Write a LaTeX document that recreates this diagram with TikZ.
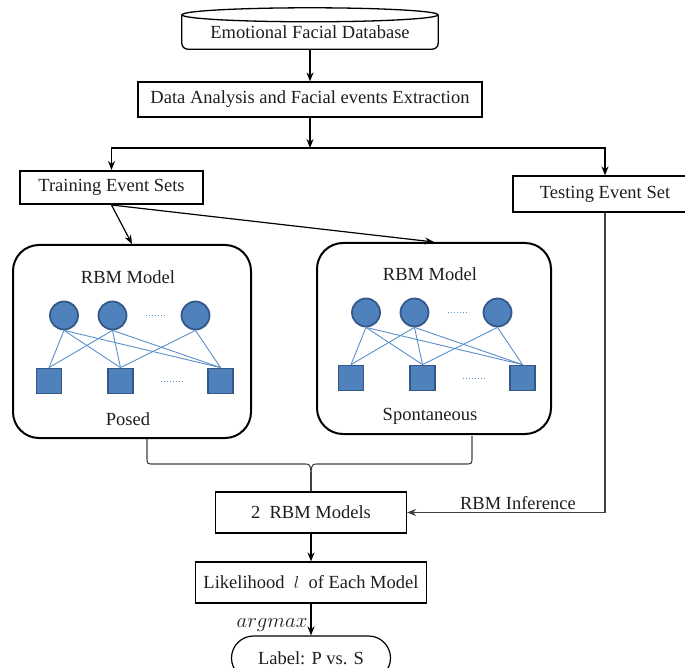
\documentclass[tikz,border=0pt]{standalone}
\usepackage{fontspec}
\setmainfont{Liberation Serif}
\usepackage{amsmath}
\usepackage{tikz}
\usetikzlibrary{arrows.meta, positioning, calc}
\definecolor{colUnit}{RGB}{79,129,189}
\definecolor{colUnitEdge}{RGB}{52,88,135}
\definecolor{colLink}{RGB}{92,142,204}
\definecolor{colText}{RGB}{30,30,30}
\tikzset{
  procbox/.style={
    draw, rectangle, line width=1.2pt, minimum height=35pt,
    inner sep=2pt, text=colText
  },
  trainbox/.style={
    procbox, line width=2pt, minimum width=183pt, minimum height=33pt
  },
  dbbox/.style={
    rectangle, minimum width=256pt, minimum height=34pt, inner sep=0pt,
    text=colText
  },
  rbmpanel/.style={
    draw, rectangle, rounded corners=26pt, line width=2pt
  },
  hunit/.style={
    circle, fill=colUnit, draw=colUnitEdge, line width=1.8pt,
    minimum size=28pt, inner sep=0pt
  },
  vunit/.style={
    rectangle, fill=colUnit, draw=colUnitEdge, line width=1.8pt,
    minimum size=25pt, inner sep=0pt
  },
  unitlink/.style={
    draw=colLink, line width=0.9pt
  },
  unitdots/.style={
    draw=colLink, dotted, line width=1pt
  },
  flowarr/.style={
    draw, -{Stealth[length=9pt, width=7pt]}, line width=1.2pt
  },
  joinline/.style={
    draw=black!75, line width=1.1pt
  },
  paneltext/.style={
    text=colText, inner sep=0pt
  },
}

\begin{document}
\begin{tikzpicture}[x=1pt, y=-1pt, font=\fontsize{18.5}{21}\selectfont]
\useasboundingbox (0,0) rectangle (685,668);

% ── Nodes ──────────────────────────────────────────────────────────────────
% Top: database and preprocessing
\node[dbbox] (db) at (310,32) {\raisebox{-5pt}{Emotional Facial Database}};
\node[procbox, minimum width=344pt] (analysis) at (310,99.5) {Data Analysis and Facial events Extraction};
\coordinate (split) at (310,148);

% Event sets
\node[trainbox] (train) at (111.5,187.5) {Training Event Sets};
\node[procbox, minimum width=184pt, minimum height=36pt] (test) at (605,194) {Testing Event Set};

% RBM panels
\node[rbmpanel, minimum width=238pt, minimum height=193pt] (panelP) at (132,341.5) {};
\node[rbmpanel, minimum width=234pt, minimum height=191pt] (panelS) at (434,338.5) {};

% Bottom chain
\node[procbox, minimum width=191pt, minimum height=41pt] (models) at (311,512.5) {2\enspace RBM Models};
\node[procbox, minimum width=231pt, minimum height=41pt] (likelihood) at (311,582.5) {Likelihood\enspace$l$\enspace of Each Model};
\node[procbox, rounded corners=22pt, minimum width=159pt, minimum height=44pt] (label) at (311,658) {Label: P vs. S};

% ── Database outline ────────────────────────────────────────────────────────
\draw[line width=1.3pt, rounded corners=6pt] (db.north west) -- (db.south west) -- (db.south east) -- (db.north east);
\draw[line width=1.3pt, fill=white] (db.north) ellipse [x radius=128pt, y radius=7pt];

% ── RBM units inside the panels ────────────────────────────────────────────
\foreach \p/\name in {P/Posed, S/Spontaneous} {
  \node[paneltext] (title\p) at ($(panel\p)+(-4,-64)$) {RBM Model};
  \node[paneltext] (name\p)  at ($(panel\p)+(-4,78)$) {\name};
  % hidden layer
  \node[hunit] (h\p1) at ($(panel\p)+(-68,-26)$) {};
  \node[hunit] (h\p2) at ($(panel\p)+(-19.5,-26)$) {};
  \node[hunit] (h\p3) at ($(panel\p)+(63.5,-26)$) {};
  % visible layer
  \node[vunit] (v\p1) at ($(panel\p)+(-83,39.5)$) {};
  \node[vunit] (v\p2) at ($(panel\p)+(-11.5,39.5)$) {};
  \node[vunit] (v\p3) at ($(panel\p)+(88.5,39.5)$) {};
  \draw[unitdots] ($(panel\p)+(14,-26)$) -- ++(21,0);
  \draw[unitdots] ($(panel\p)+(29,40)$) -- ++(22,0);
  \foreach \a/\b in {1/1,1/2,1/3,2/1,2/2,2/3,3/2,3/3}
    \draw[unitlink] (h\p\a.south) -- (v\p\b.north);
}

% ── Flows ──────────────────────────────────────────────────────────────────
% Database → analysis → split
\draw[flowarr] (db.south) -- (analysis.north);
\draw[flowarr] (analysis.south) -- (split);
\draw[flowarr] (split) -| (train.north);
\draw[flowarr] (split) -| (test.north);

% Training set → both RBM panels
\draw[flowarr] (train.south) -- (panelP.north);
\draw[flowarr] (train.south) -- (panelS.north);

% Panels joined into the models box
\coordinate (braceL) at (147,439);
\coordinate (braceR) at (472,436);
\coordinate (braceTip) at (311,472);
\draw[joinline] (braceL) -- (147,457) .. controls (147,464) .. (154,464) -- (303,464) .. controls (310,464) .. (braceTip);
\draw[joinline] (braceR) -- (472,457) .. controls (472,464) .. (465,464) -- (319,464) .. controls (312,464) .. (braceTip);
\draw[joinline] (braceTip) -- (models.north);

% Testing set → models (inference)
\draw[flowarr, draw=black!75] (test.south) |- node[pos=0.72, above, inner sep=2pt, text=colText]{RBM Inference} (models.east);

% Models → likelihood → label
\draw[flowarr] (models.south) -- (likelihood.north);
\draw[flowarr] (likelihood.south) -- node[pos=0.68, left, inner sep=3pt, text=colText, font=\fontsize{21}{24}\selectfont]{$argmax$} (label.north);

\end{tikzpicture}
\end{document}
